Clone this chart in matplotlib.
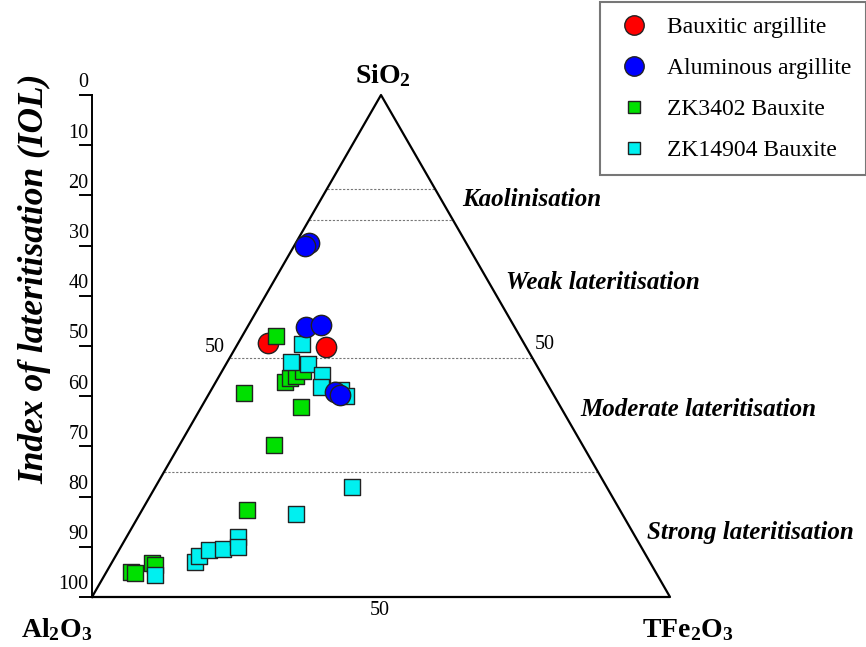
import numpy as np
import matplotlib
matplotlib.use('Agg')
from matplotlib import pyplot as plt
from matplotlib.lines import Line2D

plt.rcParams['font.family'] = ['Liberation Serif', 'DejaVu Serif']
plt.rcParams['mathtext.default'] = 'regular'

# Compositions in % (SiO2, Fe2O3); Al2O3 = 100 - SiO2 - Fe2O3
red_si = [50.6, 49.8]
red_fe = [5.2, 15.6]

blue_si = [70.5, 69.9, 53.8, 54.2, 40.8, 40.2]
blue_fe = [2.3, 1.9, 10.1, 12.5, 21.6, 22.8]

green_si = [52.0, 40.6, 30.3, 42.8, 43.6, 44.0, 45.0, 37.8, 17.3, 5.0, 4.8, 6.8, 6.4]
green_fe = [5.8, 6.0, 16.3, 12.0, 12.5, 13.3, 14.0, 17.3, 18.2, 4.25, 5.0, 7.0, 7.7]

cyan_si = [50.4, 46.8, 46.4, 44.2, 41.8, 41.2, 40.0, 16.5, 21.9, 4.4, 7.0, 8.2, 9.4, 9.6, 12.0, 10.0]
cyan_fe = [11.1, 11.0, 14.2, 17.7, 18.7, 22.5, 23.9, 27.0, 34.0, 8.7, 14.3, 14.4, 15.5, 17.9, 19.3, 20.3]

# IOL boundaries between weathering stages
iol_bounds = [18.7, 24.9, 52.4, 75.1]
iol_ticks = list(range(0, 101, 10))


def to_xy(si, fe):
    si = np.asarray(si)
    fe = np.asarray(fe)
    return fe + si / 2.0, si


fig = plt.figure(figsize=(8.66, 6.47), dpi=100)
ax = fig.add_axes([92 / 866, 50 / 647, 578 / 866, 502 / 647])
ax.set_xlim(0, 100)
ax.set_ylim(0, 100)
ax.axis('off')

# triangle outline
ax.plot([0, 100, 50, 0], [0, 0, 100, 0], color='black', lw=1.6, clip_on=False, zorder=2)

# dashed boundary lines across the triangle
for b in iol_bounds:
    s = 100 - b
    ax.plot([s / 2, 100 - s / 2], [s, s], color='#777777', lw=0.8,
            linestyle=(0, (2, 1.5)), zorder=1)

# IOL axis on the left
ax.plot([0, 0], [0, 100], color='black', lw=1.4, clip_on=False)
for t in iol_ticks:
    y = 100 - t
    ax.plot([-2.1, 0], [y, y], color='black', lw=1.4, clip_on=False)
    ax.text(-0.6, y + 0.5, str(t), ha='right', va='bottom', fontsize=14.5)

ax.text(-9.9, 63.3, 'Index of lateritisation (IOL)', rotation=90, ha='center',
        va='center', fontsize=25.5, fontweight='bold', fontstyle='italic')

# corner labels
ax.text(50.3, 103.8, 'SiO$_2$', ha='center', va='center', fontsize=20, fontweight='bold')
ax.text(-6.1, -6.6, 'Al$_2$O$_3$', ha='center', va='center', fontsize=20, fontweight='bold')
ax.text(103.0, -6.6, 'TFe$_2$O$_3$', ha='center', va='center', fontsize=20, fontweight='bold')

# 50 marks on the edges
ax.text(21.3, 49.8, '50', ha='center', va='center', fontsize=14.5)
ax.text(78.4, 50.2, '50', ha='center', va='center', fontsize=14.5)
ax.text(49.8, -2.6, '50', ha='center', va='center', fontsize=14.5)

# stage labels
stages = ['Kaolinisation', 'Weak lateritisation', 'Moderate lateritisation', 'Strong lateritisation']
stage_x = [64.0, 71.6, 84.4, 96.0]
stage_y = [79.1, 62.7, 37.3, 12.9]
for name, x, y in zip(stages, stage_x, stage_y):
    ax.text(x, y, name, ha='left', va='center', fontsize=18,
            fontweight='bold', fontstyle='italic', clip_on=False)

# samples
x, y = to_xy(red_si, red_fe)
ax.scatter(x, y, s=215, c='#ff0000', edgecolors='#222222', linewidths=1, zorder=3, clip_on=False)
x, y = to_xy(green_si, green_fe)
ax.scatter(x, y, s=135, marker='s', c='#00e000', edgecolors='#222222', linewidths=1, zorder=4, clip_on=False)
x, y = to_xy(cyan_si, cyan_fe)
ax.scatter(x, y, s=135, marker='s', c='#00f0f0', edgecolors='#222222', linewidths=1, zorder=5, clip_on=False)
x, y = to_xy(blue_si, blue_fe)
ax.scatter(x, y, s=215, c='#0000ff', edgecolors='#222222', linewidths=1, zorder=6, clip_on=False)

handles = [
    Line2D([], [], ls='none', marker='o', ms=14, mfc='#ff0000', mec='#222222', label='Bauxitic argillite'),
    Line2D([], [], ls='none', marker='o', ms=14, mfc='#0000ff', mec='#222222', label='Aluminous argillite'),
    Line2D([], [], ls='none', marker='s', ms=9, mfc='#00e000', mec='#222222', label='ZK3402 Bauxite'),
    Line2D([], [], ls='none', marker='s', ms=9, mfc='#00f0f0', mec='#222222', label='ZK14904 Bauxite'),
]
leg = fig.legend(handles=handles, loc='upper right', bbox_to_anchor=(1.0, 0.997),
                 fontsize=17, frameon=True, fancybox=False, labelspacing=0.82,
                 handletextpad=0.6, handlelength=1.6, borderpad=0.62, borderaxespad=0)
leg.get_frame().set_edgecolor('#555555')
leg.get_frame().set_linewidth(1.5)

plt.savefig('out.png', dpi=100)
plt.close()
